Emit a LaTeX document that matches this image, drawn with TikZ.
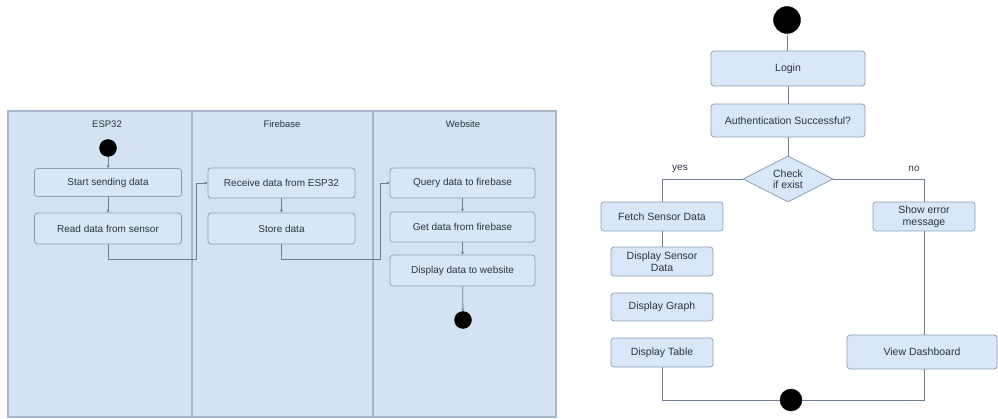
\documentclass[tikz,border=0pt]{standalone}
\usepackage{fontspec}
\setmainfont{Liberation Sans}
\usetikzlibrary{shapes.geometric,arrows.meta}
\definecolor{lanefill}{HTML}{D3E3F3}
\definecolor{lanedraw}{HTML}{A6B8CB}
\definecolor{boxfill}{HTML}{D8E7F7}
\definecolor{boxdraw}{HTML}{8FA0B4}
\definecolor{rboxfill}{HTML}{D9E7FA}
\definecolor{linec}{HTML}{6F7F90}
\definecolor{txt}{HTML}{2B3440}
\begin{document}
\begin{tikzpicture}[x=1pt,y=-1pt,
  lbox/.style={draw=boxdraw,fill=boxfill,rounded corners=3pt,line width=0.8pt,
    text=txt,font=\fontsize{10}{11}\selectfont,inner sep=0pt,align=center},
  rbox/.style={draw=boxdraw,fill=rboxfill,rounded corners=3pt,line width=0.8pt,
    text=txt,font=\fontsize{10.5}{12}\selectfont,inner sep=0pt,align=center},
  dot/.style={circle,fill=black,draw=black,inner sep=0pt},
  conn/.style={draw=linec,line width=0.8pt},
  arr/.style={conn,-{Stealth[length=3pt,width=3pt]}},
  hdr/.style={text=txt,font=\fontsize{9.5}{11}\selectfont}]
\useasboundingbox (0,0) rectangle (998,419);
% swimlanes
\draw[fill=lanefill,draw=lanedraw,line width=1.2pt] (8,111) rectangle (556,417);
\draw[draw=lanedraw,line width=1.2pt] (192,111) -- (192,417);
\draw[draw=lanedraw,line width=1.2pt] (373,111) -- (373,417);
\node[hdr] (h1) at (107,124) {ESP32};
\node[hdr] (h2) at (282,124) {Firebase};
\node[hdr] (h3) at (463,124) {Website};
% ESP32
\node[dot,minimum size=17pt] (st) at (108,148) {};
\node[lbox,minimum width=147pt,minimum height=28pt] (s1) at (108,182.5) {Start sending data};
\node[lbox,minimum width=147pt,minimum height=31pt] (s2) at (108,228.5) {Read data from sensor};
% Firebase
\node[lbox,minimum width=147pt,minimum height=30pt] (f1) at (281.5,183) {Receive data from ESP32};
\node[lbox,minimum width=147pt,minimum height=31pt] (f2) at (281.5,228.5) {Store data};
% Website
\node[lbox,minimum width=145pt,minimum height=30pt] (w1) at (462.5,183) {Query data to firebase};
\node[lbox,minimum width=145pt,minimum height=30pt] (w2) at (462.5,227) {Get data from firebase};
\node[lbox,minimum width=145pt,minimum height=31pt] (w3) at (462.5,270.5) {Display data to website};
\node[dot,minimum size=17pt] (en) at (463,320) {};
\coordinate (c1) at (196,259);
\coordinate (c2) at (380,259);
\draw[arr] (st) -- (s1);
\draw[arr] (s1) -- (s2);
\draw[arr] (s2.south) |- (c1) |- (f1.west);
\draw[arr] (f1) -- (f2);
\draw[arr] (f2.south) |- (c2) |- (w1.west);
\draw[arr] (w1) -- (w2);
\draw[arr] (w2) -- (w3);
\draw[arr] (w3) -- (en);
% right flowchart
\node[dot,minimum size=27pt] (st2) at (787,20) {};
\node[rbox,minimum width=154pt,minimum height=35pt] (login) at (788,68.5) {Login};
\node[rbox,minimum width=154pt,minimum height=33pt] (auth) at (788,120.5) {Authentication Successful?};
\node[diamond,draw=boxdraw,fill=rboxfill,line width=0.8pt,text=txt,
  font=\fontsize{10.5}{11}\selectfont,align=center,inner sep=0pt,aspect=2,
  minimum width=90pt,minimum height=46pt] (chk) at (788,179) {Check\\if exist};
\node[rbox,minimum width=122pt,minimum height=29pt] (fetch) at (662,216.5) {Fetch Sensor Data};
\node[rbox,minimum width=102pt,minimum height=29pt] (err) at (924,216.5) {Show error\\message};
\node[rbox,minimum width=102pt,minimum height=29pt] (dsd) at (662,261.5) {Display Sensor\\Data};
\node[rbox,minimum width=102pt,minimum height=28pt] (graph) at (662,307) {Display Graph};
\node[rbox,minimum width=102pt,minimum height=29pt] (table) at (662,352.5) {Display Table};
\node[rbox,minimum width=150pt,minimum height=34pt] (dash) at (922,352) {View Dashboard};
\node[dot,minimum size=22pt] (en2) at (791,400) {};
\draw[conn] (st2) -- (login);
\draw[conn] (login) -- (auth);
\draw[conn] (auth) -- (chk);
\draw[conn] (chk.west) -| (fetch.north);
\draw[conn] (chk.east) -| (err.north);
\node[hdr,font=\fontsize{10}{11}\selectfont] (yes) at (680,169) {yes};
\node[hdr,font=\fontsize{10}{11}\selectfont] (no) at (914,169) {no};
\draw[conn] (fetch) -- (dsd);
\draw[conn] (err.south) -- (err.south |- dash.north);
\draw[conn] (table.south) |- (en2.west);
\draw[conn] (dash.south -| err.south) |- (en2.east);
\end{tikzpicture}
\end{document}
